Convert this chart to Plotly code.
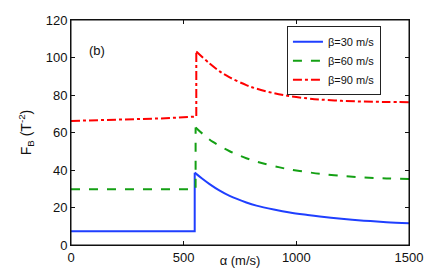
import plotly.graph_objects as go

# beta = 30 m/s : flat part (before jump) and decaying part (after jump)
a30_low = [0, 549, 549]
f30_low = [7.3, 7.3, 38.6]
a30 = [549, 580, 615, 660, 704, 778, 823, 900, 971, 1050, 1104, 1200, 1300, 1400, 1500]
f30 = [38.6, 35.6, 32.5, 29.0, 26.2, 22.7, 21.0, 18.9, 17.3, 16.0, 15.2, 14.0, 13.0, 12.2, 11.6]
# beta = 60 m/s
a60_low = [0, 553, 553]
f60_low = [29.7, 29.8, 62.7]
a60 = [553, 587, 630, 704, 778, 850, 926, 971, 1059, 1104, 1200, 1300, 1400, 1500]
f60 = [62.7, 59.0, 55.0, 50.0, 46.3, 43.6, 41.4, 40.3, 38.7, 38.0, 36.9, 36.0, 35.5, 35.2]
# beta = 90 m/s
a90_low = [0, 200, 400, 556, 556]
f90_low = [66.2, 66.7, 67.5, 68.5, 103.2]
a90 = [556, 615, 660, 704, 778, 823, 900, 971, 1050, 1104, 1200, 1300, 1400, 1500]
f90 = [103.2, 96.8, 92.6, 89.4, 85.3, 83.4, 81.0, 79.4, 78.2, 77.6, 76.9, 76.5, 76.3, 76.2]

xticks = [0, 500, 1000, 1500]
yticks = [0, 20, 40, 60, 80, 100, 120]

series = [
    ("β=30 m/s", a30_low, f30_low, a30, f30, "#1f3fff", "solid"),
    ("β=60 m/s", a60_low, f60_low, a60, f60, "#14a014", "dash"),
    ("β=90 m/s", a90_low, f90_low, a90, f90, "#ff0000", "dashdot"),
]

fig = go.Figure()
for name, xl, yl, xh, yh, col, dash in series:
    fig.add_trace(go.Scatter(x=xh, y=yh, mode="lines", name=name, legendgroup=name,
                             line=dict(color=col, width=2, dash=dash, shape="spline")))
for name, xl, yl, xh, yh, col, dash in series:
    fig.add_trace(go.Scatter(x=xl, y=yl, mode="lines", name=name, legendgroup=name,
                             showlegend=False,
                             line=dict(color=col, width=2, dash=dash)))

axis_common = dict(showgrid=False, zeroline=False, showline=True, linecolor="#111",
                   linewidth=1, mirror="ticks", ticks="inside", ticklen=4,
                   tickcolor="#111", tickfont=dict(size=13, color="#111"),
                   automargin=False)

# page body has an 8px default margin, so the figure is 8px smaller than the window
fig.update_layout(
    width=428, height=260,
    margin=dict(l=63, r=27, t=12, b=23),
    paper_bgcolor="white", plot_bgcolor="white",
    font=dict(family="Liberation Sans, Arial, sans-serif", size=13, color="#111"),
    xaxis=dict(range=[0, 1500], tickvals=xticks,
               title=dict(text="α (m/s)", standoff=1, font=dict(size=13)), **axis_common),
    yaxis=dict(range=[0, 120], tickvals=yticks,
               title=dict(text="F<sub>B</sub> (T<sup>-2</sup>)", standoff=10, font=dict(size=14)),
               **axis_common),
    legend=dict(x=0.917, y=0.972, xanchor="right", yanchor="top",
                bordercolor="#222", borderwidth=1, bgcolor="white",
                font=dict(size=11), itemwidth=30, tracegroupgap=0),
    showlegend=True,
    shapes=[dict(type="rect", xref="paper", yref="paper", x0=0, x1=1, y0=0, y1=1,
                 line=dict(color="#111", width=1), layer="above")],
    annotations=[dict(x=114, y=104, xref="x", yref="y", text="(b)", showarrow=False,
                      font=dict(size=13, color="#111"))],
)

fig.write_html("out.html")
